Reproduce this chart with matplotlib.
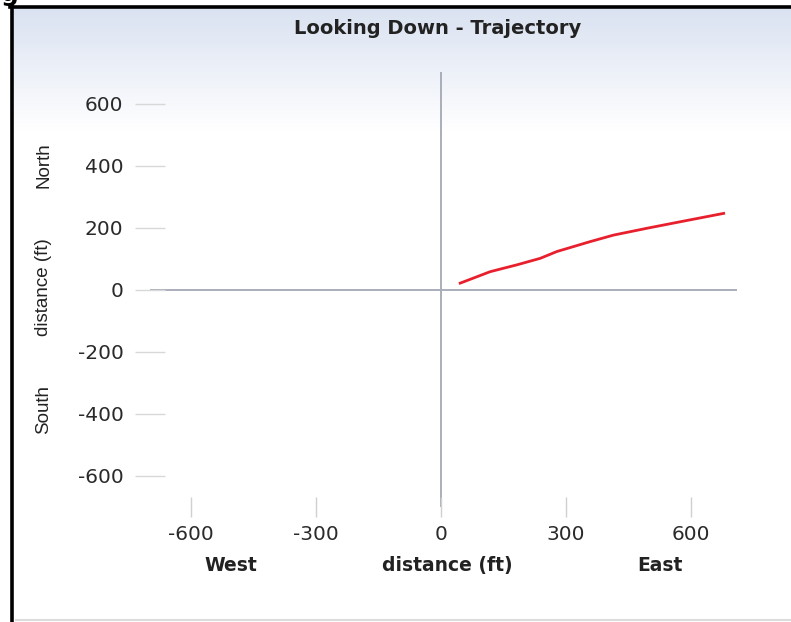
import numpy as np
import matplotlib
matplotlib.use("Agg")
import matplotlib.pyplot as plt
from matplotlib.lines import Line2D

plt.rcParams["axes.unicode_minus"] = False

# Trajectory plan view: east (x) and north (y) offsets in feet
east_ft = [46, 118, 182, 238, 278, 358, 414, 494, 574, 678]
north_ft = [22, 59, 81, 102, 124, 156, 177, 199, 220, 247]

x_ticks = [-600, -300, 0, 300, 600]
y_ticks = [-600, -400, -200, 0, 200, 400, 600]

W, H = 791, 622
fig = plt.figure(figsize=(W / 100, H / 100), dpi=100)
fig.patch.set_facecolor("white")

def fx(px):
    return px / W

def fy(py):
    return 1 - py / H

# Panel background: pale blue fading to white
bg = fig.add_axes([fx(12), 0, 1 - fx(12), fy(8)])
bg.axis("off")
n = 600
t = np.linspace(0, 1, n)
fade = np.clip(t / 0.2, 0, 1)
top = np.array([0.855, 0.886, 0.945])
col = top[None, :] * (1 - fade[:, None]) + fade[:, None]
bg.imshow(col[:, None, :], aspect="auto", extent=[0, 1, 0, 1])

# Panel frame
fig.add_artist(Line2D([fx(10), 1], [fy(7), fy(7)], color="black", lw=2.6))
fig.add_artist(Line2D([fx(11.5), fx(11.5)], [0, fy(6)], color="black", lw=2.6))
fig.add_artist(Line2D([fx(16), 1], [fy(619.5), fy(619.5)], color="#dcdcdc", lw=1.5))
# Tail of the caption above the panel
fig.text(fx(1), fy(1), "g", fontsize=18, fontweight="bold", ha="left",
         va="baseline", color="black")

ax = fig.add_axes([fx(150), fy(507), fx(587), 435 / H])
ax.set_facecolor("none")
for s in ax.spines.values():
    s.set_visible(False)

ax.set_xlim(-698, 710)
ax.set_ylim(-700, 703)

ax.axhline(0, color="#a9aebb", lw=1.4, zorder=1)
ax.axvline(0, color="#a9aebb", lw=1.4, zorder=1)

ax.plot(east_ft, north_ft, color="#e8202e", lw=2.0, zorder=3)

ax.set_xticks(x_ticks)
ax.set_xticklabels([str(v) for v in x_ticks])
ax.set_yticks(y_ticks)
ax.set_yticklabels([str(v) for v in y_ticks])
ax.tick_params(axis="x", direction="inout", length=14, width=1, color="#d0d0d0",
               pad=6, labelsize=14.5, labelcolor="#2a2a2a")
ax.tick_params(axis="y", direction="inout", length=22, width=1, color="#d8d8d8",
               pad=8, labelsize=14.5, labelcolor="#2a2a2a")

ax.set_title("Looking Down - Trajectory", fontsize=14, fontweight="bold",
             color="#222222", x=0.49, y=1.0, pad=27)

# Axis captions, sharing one baseline
cap = dict(fontsize=13.5, fontweight="bold", ha="center", va="baseline",
           color="#222222")
fig.text(fx(231), fy(571), "West", **cap)
fig.text(fx(447), fy(571), "distance (ft)", **cap)
fig.text(fx(660), fy(571), "East", **cap)

side = dict(rotation=90, ha="center", va="center", fontsize=13.5,
            family="Liberation Sans", color="#222222")
fig.text(fx(44), fy(165), "North", **side)
fig.text(fx(44), fy(287), "distance (ft)", **side)
fig.text(fx(44), fy(410), "South", **side)

fig.savefig("out.png", dpi=100)
